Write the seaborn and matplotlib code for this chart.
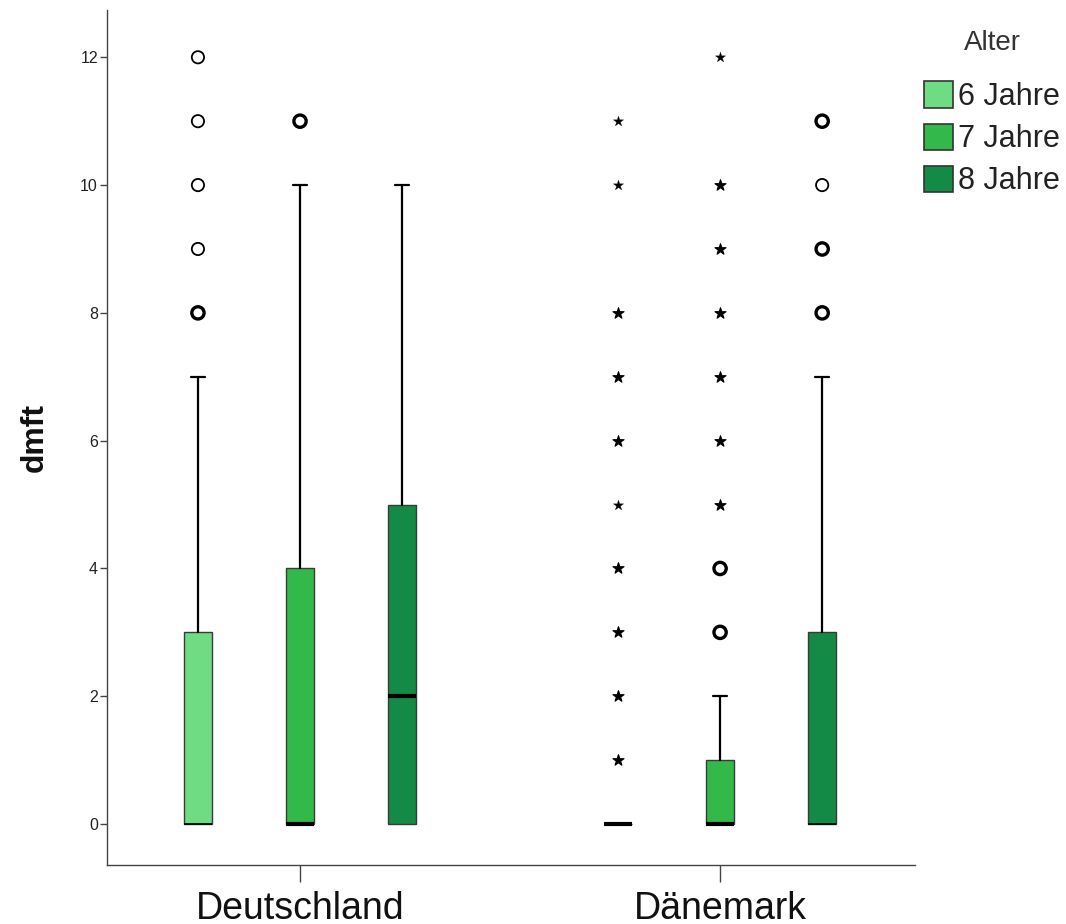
import numpy as np
import pandas as pd
import matplotlib
matplotlib.use("Agg")
import matplotlib.pyplot as plt
import seaborn as sns
from matplotlib.patches import Patch

# ---------------- data ----------------
laender = ["Deutschland", "Dänemark"]
alter = ["6 Jahre", "7 Jahre", "8 Jahre"]
farben = ["#6fdb82", "#33b84a", "#138a45"]

# box statistics per country (rows) and age group (columns)
q1 = [[0, 0, 0], [0, 0, 0]]
median = [[0, 0, 2], [0, 0, 0]]
q3 = [[3, 4, 5], [0, 1, 3]]
whisker_unten = [[0, 0, 0], [0, 0, 0]]
whisker_oben = [[7, 10, 10], [0, 2, 7]]

# outliers (circles) and extreme values (stars); repeated values = several cases
ausreisser_de = [[8, 8, 9, 10, 11, 12], [11, 11], []]
ausreisser_dk = [[], [3, 3, 4, 4], [8, 8, 9, 9, 10, 11, 11]]
extrem_de = [[], [], []]
extrem_dk = [[1, 1, 2, 2, 3, 3, 4, 4, 5, 6, 6, 7, 7, 8, 8, 10, 11],
             [5, 5, 6, 6, 7, 7, 8, 8, 9, 9, 10, 10, 12],
             []]

# median line widths (style, as seen in the original rendering)
median_lw = [[1.2, 3.0, 3.0], [3.0, 3.0, 1.2]]

# ---------------- style ----------------
sns.set_style("ticks")
plt.rcParams["font.family"] = ["Liberation Sans", "DejaVu Sans"]

fig = plt.figure(figsize=(10.66, 9.24), dpi=100)
ax = fig.add_axes([107 / 1066, 1 - 865 / 924, (915 - 107) / 1066, (865 - 10) / 924])

dodge = 0.243
box_w = 0.067
cap_w = 0.033

rows = []
for li, land in enumerate(laender):
    for ai, a in enumerate(alter):
        rows.append(dict(land=land, alter=a, li=li, ai=ai,
                         q1=q1[li][ai], med=median[li][ai], q3=q3[li][ai],
                         lo=whisker_unten[li][ai], hi=whisker_oben[li][ai],
                         mlw=median_lw[li][ai]))
boxes = pd.DataFrame(rows)
boxes["pos"] = boxes["li"] + (boxes["ai"] - 1) * dodge

for _, r in boxes.iterrows():
    st = dict(med=r.med, q1=r.q1, q3=r.q3, whislo=r.lo, whishi=r.hi, fliers=[])
    art = ax.bxp([st], positions=[r.pos], widths=box_w, capwidths=cap_w,
                 patch_artist=True, showfliers=False, manage_ticks=False,
                 boxprops=dict(facecolor=farben[r.ai], edgecolor="#3a3a3a", linewidth=1.0),
                 medianprops=dict(color="black", linewidth=r.mlw, solid_capstyle="butt"),
                 whiskerprops=dict(color="black", linewidth=1.6),
                 capprops=dict(color="black", linewidth=1.6))
    caps = art["caps"]
    if r.lo == r.q1:
        caps[0].set_visible(False)
    if r.hi == r.q3:
        caps[1].set_visible(False)

# outlier table
pts = []
for li, (aus, ext) in enumerate([(ausreisser_de, extrem_de), (ausreisser_dk, extrem_dk)]):
    for ai in range(3):
        for v in aus[ai]:
            pts.append(dict(li=li, ai=ai, dmft=v, art="o"))
        for v in ext[ai]:
            pts.append(dict(li=li, ai=ai, dmft=v, art="*"))
pts = pd.DataFrame(pts)
pts["pos"] = pts["li"] + (pts["ai"] - 1) * dodge
agg = pts.groupby(["pos", "dmft", "art"]).size().reset_index(name="n")

for mehrfach, lw in [(False, 1.3), (True, 2.4)]:
    sub = agg[(agg["art"] == "o") & ((agg["n"] >= 2) == mehrfach)]
    ax.scatter(sub["pos"], sub["dmft"], s=78, marker="o", facecolors="none",
               edgecolors="black", linewidths=lw, zorder=5)
    sub = agg[(agg["art"] == "*") & ((agg["n"] >= 2) == mehrfach)]
    ax.scatter(sub["pos"], sub["dmft"], s=70 if mehrfach else 60, marker="*",
               color="black", linewidths=0.8 if mehrfach else 0.2,
               edgecolors="black", zorder=5)

# ---------------- axes ----------------
ax.set_xlim(-0.4595, 1.464)
ax.set_ylim(-0.641, 12.74)
ax.set_yticks(range(0, 13, 2))
ax.set_xticks([0, 1])
ax.set_xticklabels(laender, fontsize=27, color="#111111")
ax.tick_params(axis="y", labelsize=11.5, length=5, width=1, color="#444444",
               labelcolor="#222222", pad=1.5)
ax.tick_params(axis="x", length=12, width=1, color="#444444", pad=7)
ax.set_ylabel("dmft", fontsize=23, fontweight="bold", labelpad=22, color="#111111")
ax.set_xlabel("")
sns.despine(ax=ax)
for s in ["left", "bottom"]:
    ax.spines[s].set_color("#444444")
    ax.spines[s].set_linewidth(1.0)

# ---------------- legend ----------------
handles = [Patch(facecolor=c, edgecolor="#333333", linewidth=1.2) for c in farben]
leg = fig.legend(handles, alter, title="Alter", loc="upper left",
                 bbox_to_anchor=(912 / 1066, 1 - 18 / 924), frameon=False,
                 fontsize=22, title_fontsize=20, handlelength=0.95, handleheight=0.95,
                 handletextpad=0.15, labelspacing=0.38, borderaxespad=0)
leg._legend_box.sep = 18
leg.get_title().set_color("#333333")
for t in leg.get_texts():
    t.set_color("#222222")

fig.savefig("out.png", dpi=100)
